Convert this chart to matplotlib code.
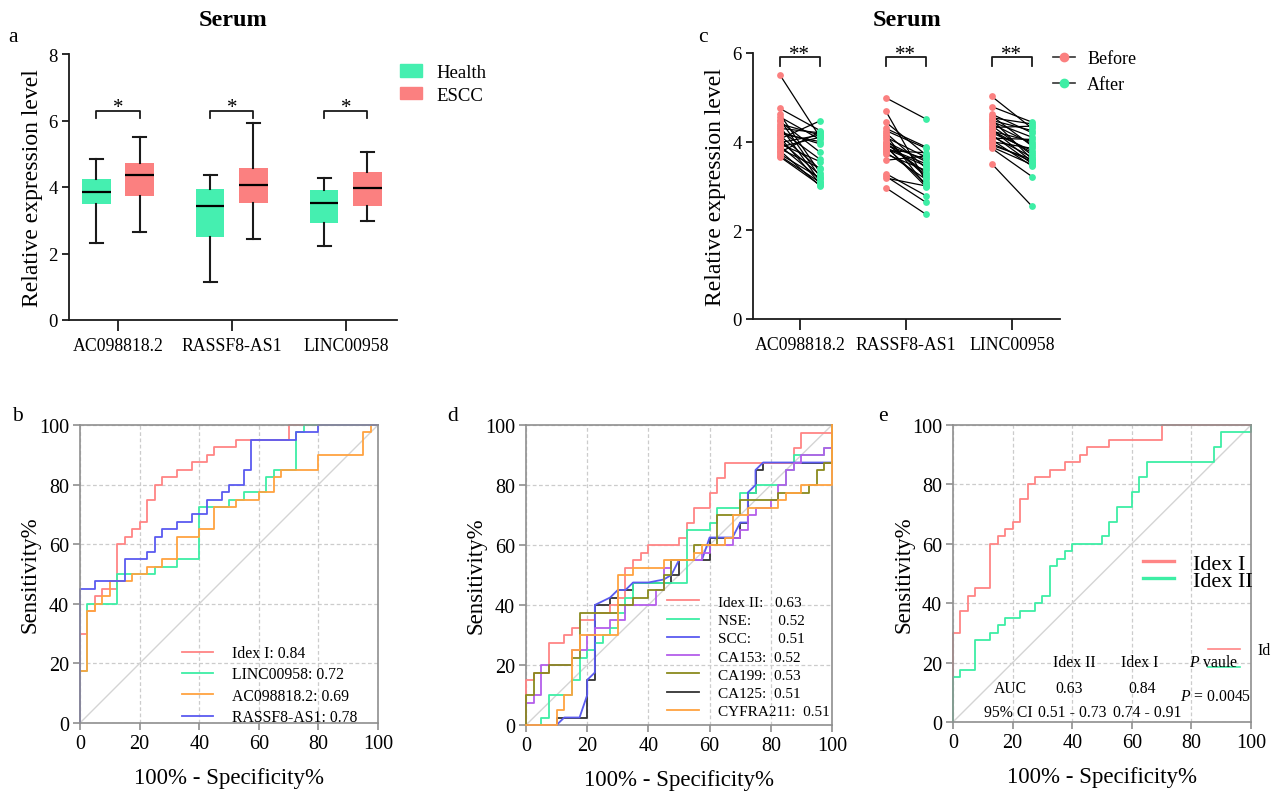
import numpy as np
import matplotlib
matplotlib.use('Agg')
import matplotlib.pyplot as plt
from matplotlib.patches import Patch
from matplotlib.lines import Line2D

plt.rcParams['font.family'] = 'Liberation Serif'
plt.rcParams['mathtext.fontset'] = 'custom'
plt.rcParams['mathtext.rm'] = 'Liberation Serif'
plt.rcParams['mathtext.it'] = 'Liberation Serif:italic'

# ---------------- data ----------------
genes = ['AC098818.2', 'RASSF8-AS1', 'LINC00958']

# panel a: box statistics (whisker low, Q1, median, Q3, whisker high)
health_stats = [[2.32, 3.49, 3.85, 4.24, 4.83],
                [1.15, 2.49, 3.43, 3.93, 4.37],
                [2.22, 2.93, 3.52, 3.91, 4.26]]
escc_stats = [[2.64, 3.74, 4.36, 4.72, 5.51],
              [2.45, 3.53, 4.05, 4.56, 5.92],
              [2.97, 3.44, 3.97, 4.44, 5.06]]

# panel c: paired values before / after
before_ac = [5.51, 4.75, 4.62, 4.56, 4.50, 4.46, 4.40, 4.35, 4.30, 4.26, 4.22, 4.18, 4.14,
             4.10, 4.06, 4.02, 3.98, 3.95, 3.91, 3.88, 3.84, 3.80, 3.76, 3.72, 3.68, 3.66]
after_ac = [4.10, 4.25, 3.30, 4.05, 3.20, 3.76, 4.15, 3.10, 4.20, 3.60, 3.95, 4.00, 3.38,
            3.05, 4.47, 3.25, 4.15, 3.55, 3.15, 4.10, 3.40, 3.00, 4.22, 3.18, 3.08, 3.02]
before_ra = [4.99, 4.69, 4.44, 4.25, 4.20, 4.15, 4.10, 4.05, 4.00, 3.96, 3.92, 3.88, 3.84,
             3.80, 3.76, 3.72, 3.58, 3.28, 3.22, 3.18, 2.96, 4.30, 3.98, 3.90, 3.86]
after_ra = [4.51, 3.10, 3.70, 3.85, 3.40, 3.00, 3.65, 3.20, 3.55, 3.30, 3.60, 3.05, 3.45,
            3.75, 3.15, 3.35, 3.68, 2.78, 2.63, 3.00, 2.36, 3.88, 3.25, 2.98, 3.50]
before_li = [5.02, 4.79, 4.62, 4.58, 4.54, 4.50, 4.45, 4.40, 4.36, 4.32, 4.28, 4.24, 4.20,
             4.16, 4.12, 4.08, 4.04, 4.00, 3.96, 3.92, 3.88, 3.85, 3.50, 4.48, 4.26]
after_li = [4.30, 4.44, 4.20, 3.90, 4.40, 3.60, 4.10, 3.95, 3.70, 4.35, 3.55, 4.00, 3.80,
            3.50, 3.65, 4.05, 3.45, 3.85, 3.55, 3.60, 3.48, 3.21, 2.54, 4.25, 3.75]

# ROC curves (x = 100% - specificity, y = sensitivity), step corners
idex1_x = [0, 0, 2.5, 5, 7.5, 12.5, 15, 17.5, 20, 22.5, 25, 27.5, 32.5, 37.5, 42.5, 45, 52.5, 70, 100]
idex1_y = [0, 30, 37.5, 42.5, 45, 60, 62.5, 65, 67.5, 75, 80, 82.5, 85, 87.5, 90, 92.5, 95, 100, 100]
idex2_x = [0, 0, 2.5, 7.5, 12.5, 15, 17.5, 22.5, 27.5, 30, 32.5, 35, 37.5, 40, 50, 52.5, 55, 60, 62.5, 65, 87.5, 90, 100]
idex2_y = [0, 15, 17.5, 27.5, 30, 32.5, 35, 37.5, 40, 42.5, 52.5, 55, 57.5, 60, 62.5, 67.5, 72.5, 77.5, 82.5, 87.5, 92.5, 97.5, 100]
linc_x = [0, 0, 2.5, 12.5, 25, 32.5, 40, 50, 55, 62.5, 65, 72.5, 75, 100]
linc_y = [0, 17.5, 40, 50, 52.5, 55, 72.5, 75, 77.5, 82.5, 85, 97.5, 100, 100]
ac_x = [0, 0, 2.5, 5, 7.5, 10, 17.5, 22.5, 27.5, 32.5, 40, 45, 52.5, 60, 65, 67.5, 80, 95, 97.5, 100]
ac_y = [0, 17.5, 37.5, 40, 42.5, 47.5, 50, 52.5, 55, 62.5, 65, 72.5, 75, 77.5, 82.5, 85, 90, 97.5, 100, 100]
rassf_x = [0, 0, 5, 15, 22.5, 25, 27.5, 32.5, 37.5, 42.5, 47.5, 50, 55, 57.5, 72.5, 80, 100]
rassf_y = [0, 45, 47.5, 55, 57.5, 62.5, 65, 67.5, 70, 75, 77.5, 80, 85, 95, 97.5, 100, 100]

nse_x = [0, 5, 7.5, 15, 17.5, 20, 22.5, 25, 27.5, 30, 32.5, 35, 52.5, 60, 62.5, 70, 75, 85, 87.5, 97.5, 100]
nse_y = [0, 2.5, 10, 15, 22.5, 25, 27.5, 30, 32.5, 37.5, 42.5, 47.5, 65, 67.5, 72.5, 77.5, 80, 85, 90, 92.5, 100]
scc_x = [0, 10, 12.5, 17.5, 20, 20, 22.5, 22.5, 27.5, 30, 32.5, 35, 40, 45, 47.5, 50, 57.5, 60, 67.5, 70, 72.5, 72.5, 75, 75, 77.5, 100, 100]
scc_y = [0, 0, 2.5, 2.5, 10, 15, 17.5, 40, 42.5, 45, 45, 47.5, 47.5, 48.5, 50, 55, 55, 62.5, 62.5, 67.5, 67.5, 77.5, 80, 85, 87.5, 87.5, 100]
ca153_x = [0, 0, 2.5, 5, 15, 20, 22.5, 27.5, 32.5, 42.5, 45, 47.5, 57.5, 60, 67.5, 70, 72.5, 75, 80, 82.5, 85, 87.5, 90, 97.5, 100]
ca153_y = [0, 7.5, 10, 20, 25, 30, 32.5, 35, 40, 45, 52.5, 55, 57.5, 60, 62.5, 65, 70, 72.5, 75, 80, 85, 87.5, 90, 92.5, 100]
ca199_x = [0, 0, 2.5, 7.5, 15, 17.5, 30, 35, 40, 45, 47.5, 55, 62.5, 70, 82.5, 92.5, 95, 97.5, 100]
ca199_y = [0, 10, 17.5, 20, 22.5, 37.5, 40, 42.5, 45, 50, 55, 60, 70, 75, 77.5, 80, 85, 87.5, 100]
ca125_x = [0, 10, 12.5, 20, 22.5, 27.5, 30, 35, 45, 47.5, 50, 57.5, 60, 70, 72.5, 75, 77.5, 100]
ca125_y = [0, 2.5, 2.5, 15, 40, 42.5, 45, 47.5, 47.5, 50, 55, 55, 62.5, 67.5, 77.5, 85, 87.5, 100]
cyfra_x = [0, 10, 12.5, 15, 17.5, 30, 35, 45, 55, 57.5, 65, 67.5, 72.5, 82.5, 85, 90, 100]
cyfra_y = [0, 5, 10, 25, 30, 50, 52.5, 55, 57.5, 60, 62.5, 70, 72.5, 75, 77.5, 80, 100]

# ---------------- style ----------------
GREEN = '#45EFB0'
RED = '#FB8080'
ROC_RED = '#FF8585'
ROC_GREEN = '#3DEEA5'
ORANGE = '#FFA340'
BLUE = '#5A5AF0'
PURPLE = '#B45EEA'
OLIVE = '#8A8A1E'
DARK = '#333333'
GRAY = '#8F8F8F'

W, H = 1281, 804
fig = plt.figure(figsize=(W / 100, H / 100), dpi=100)


def px_axes(l, t, r, b):
    return fig.add_axes([l / W, 1 - b / H, (r - l) / W, (b - t) / H])


def fig_text(x, y, s, **kw):
    fig.text(x / W, 1 - y / H, s, ha='center', va='center', **kw)


def fig_anchor(x, y):
    return dict(loc='upper left', bbox_to_anchor=(x / W, 1 - y / H), bbox_transform=fig.transFigure,
                borderpad=0, borderaxespad=0, frameon=False)


def style_top(ax):
    for s in ['top', 'right']:
        ax.spines[s].set_visible(False)
    for s in ['left', 'bottom']:
        ax.spines[s].set_linewidth(1.3)
        ax.spines[s].set_color('#1a1a1a')
    ax.tick_params(direction='out', width=1.3, color='#1a1a1a')
    ax.tick_params(axis='y', length=5, labelsize=13.5, pad=3)
    ax.tick_params(axis='x', length=8, labelsize=12.8, pad=4)


def style_roc(ax, ypad):
    ax.set_xlim(0, 100)
    ax.set_ylim(0, 100)
    ax.set_xticks(range(0, 101, 20))
    ax.set_yticks(range(0, 101, 20))
    for s in ax.spines.values():
        s.set_color(GRAY)
        s.set_linewidth(1.2)
    ax.tick_params(direction='out', length=5, width=1.2, color=GRAY, labelsize=14.5, pad=3)
    ax.grid(True, color='#cccccc', linestyle=(0, (3, 2)), linewidth=0.9)
    ax.set_axisbelow(True)
    ax.plot([0, 100], [0, 100], color='#d4d4d4', lw=1.0, zorder=1)
    ax.set_xlabel('100% - Specificity%', fontsize=16.5, labelpad=10)
    ax.set_ylabel('Sensitivity%', fontsize=16.5, labelpad=ypad)


# ---------------- panel a ----------------
ax = px_axes(69, 55, 397, 321)
pos = np.arange(len(genes))
off = 0.19
stats = []
positions = []
colors = []
for i in range(len(genes)):
    for st, dx, c in [(health_stats[i], -off, GREEN), (escc_stats[i], off, RED)]:
        stats.append(dict(whislo=st[0], q1=st[1], med=st[2], q3=st[3], whishi=st[4], fliers=[]))
        positions.append(i + dx)
        colors.append(c)
bp = ax.bxp(stats, positions=positions, widths=0.25, patch_artist=True, showfliers=False,
            manage_ticks=False, capwidths=0.115,
            whiskerprops=dict(color='#1a1a1a', lw=1.5), capprops=dict(color='#1a1a1a', lw=1.5),
            medianprops=dict(color='black', lw=1.6), boxprops=dict(lw=0))
for box, c in zip(bp['boxes'], colors):
    box.set_facecolor(c)
    box.set_edgecolor(c)
for i in range(len(genes)):
    ax.plot([i - off, i - off, i + off, i + off], [6.07, 6.29, 6.29, 6.07], color='#1a1a1a', lw=1.3)
    ax.text(i, 6.1, '*', ha='center', va='bottom', fontsize=15)
ax.set_xlim(-0.43, 2.45)
ax.set_ylim(0, 8)
ax.set_yticks([0, 2, 4, 6, 8])
ax.set_xticks(pos)
ax.set_xticklabels(genes)
ax.set_ylabel('Relative expression level', fontsize=17, labelpad=4)
style_top(ax)
ax.legend(handles=[Patch(color=GREEN, label='Health'), Patch(color=RED, label='ESCC')],
          fontsize=13.5, handlelength=1.17, handleheight=0.64, handletextpad=0.8,
          labelspacing=0.3, **fig_anchor(400, 65))
fig_text(233, 20, 'Serum', fontsize=17.5, fontweight='bold')
fig_text(13, 37, 'a', fontsize=15.5)

# ---------------- panel c ----------------
ax = px_axes(753, 54, 1060, 320)
groups = [(before_ac, after_ac), (before_ra, after_ra), (before_li, after_li)]
for i, (bef, aft) in enumerate(groups):
    for b, a in zip(bef, aft):
        ax.plot([i - off, i + off], [b, a], color='black', lw=0.9, zorder=2)
    ax.scatter(np.full(len(bef), i - off), bef, s=24, color=RED, zorder=3, linewidths=0)
    ax.scatter(np.full(len(aft), i + off), aft, s=24, color=ROC_GREEN, zorder=3, linewidths=0)
    ax.plot([i - off, i - off, i + off, i + off], [5.70, 5.92, 5.92, 5.70], color='#1a1a1a',
            lw=1.3, clip_on=False)
    ax.text(i, 5.76, '**', ha='center', va='bottom', fontsize=15)
ax.set_xlim(-0.443, 2.453)
ax.set_ylim(0, 6)
ax.set_yticks([0, 2, 4, 6])
ax.set_xticks(pos)
ax.set_xticklabels(genes)
ax.set_ylabel('Relative expression level', fontsize=17, labelpad=5)
style_top(ax)
ax.legend(handles=[Line2D([], [], color=DARK, marker='o', markersize=6, markerfacecolor=RED,
                          markeredgecolor=RED, lw=1.2, label='Before'),
                   Line2D([], [], color=DARK, marker='o', markersize=6, markerfacecolor=ROC_GREEN,
                          markeredgecolor=ROC_GREEN, lw=1.2, label='After')],
          fontsize=13, handlelength=1.2, handletextpad=0.7, labelspacing=0.5,
          **fig_anchor(1053, 51))
fig_text(907, 20, 'Serum', fontsize=17.5, fontweight='bold')
fig_text(703, 37, 'c', fontsize=15.5)

# ---------------- panel b ----------------
ax = px_axes(80, 426, 378, 724)
style_roc(ax, -1)
ax.plot(idex1_x, idex1_y, drawstyle='steps-post', color=ROC_RED, lw=1.3, label='Idex I: 0.84',
        clip_on=False)
ax.plot(linc_x, linc_y, drawstyle='steps-post', color=ROC_GREEN, lw=1.3, label='LINC00958: 0.72',
        clip_on=False)
ax.plot(ac_x, ac_y, drawstyle='steps-post', color=ORANGE, lw=1.3, label='AC098818.2: 0.69',
        clip_on=False)
ax.plot(rassf_x, rassf_y, drawstyle='steps-post', color=BLUE, lw=1.3, label='RASSF8-AS1: 0.78',
        clip_on=False)
ax.legend(fontsize=11.3, handlelength=2.0, handletextpad=1.2, labelspacing=0.34,
          **fig_anchor(182, 646))
fig_text(17, 417, 'b', fontsize=15.5)

# ---------------- panel d ----------------
ax = px_axes(526, 426, 832, 726)
style_roc(ax, -1)
ax.plot(ca125_x, ca125_y, drawstyle='steps-post', color=DARK, lw=1.3, zorder=2, clip_on=False)
ax.plot(idex2_x, idex2_y, drawstyle='steps-post', color=ROC_RED, lw=1.3, zorder=3, clip_on=False)
ax.plot(nse_x, nse_y, drawstyle='steps-post', color=ROC_GREEN, lw=1.3, zorder=3, clip_on=False)
ax.plot(scc_x, scc_y, color=BLUE, lw=1.3, zorder=3, clip_on=False)
ax.plot(ca153_x, ca153_y, drawstyle='steps-post', color=PURPLE, lw=1.3, zorder=3, clip_on=False)
ax.plot(ca199_x, ca199_y, drawstyle='steps-post', color=OLIVE, lw=1.3, zorder=3, clip_on=False)
ax.plot(cyfra_x, cyfra_y, drawstyle='steps-post', color=ORANGE, lw=1.3, zorder=3, clip_on=False)
d_handles = [Line2D([], [], color=c, lw=1.3) for c in
             [ROC_RED, ROC_GREEN, BLUE, PURPLE, OLIVE, DARK, ORANGE]]
d_labels = ['Idex II:   0.63', 'NSE:       0.52', 'SCC:       0.51', 'CA153:  0.52',
            'CA199:  0.53', 'CA125:  0.51', 'CYFRA211:  0.51']
ax.legend(d_handles, d_labels, fontsize=11, handlelength=2.1, handletextpad=1.25,
          labelspacing=0.3, **fig_anchor(667, 596))
fig_text(453, 417, 'd', fontsize=15.5)

# ---------------- panel e ----------------
ax = px_axes(953, 426, 1251, 723)
style_roc(ax, -2)
ax.plot(idex1_x, idex1_y, drawstyle='steps-post', color=ROC_RED, lw=1.3, clip_on=False)
ax.plot(idex2_x, idex2_y, drawstyle='steps-post', color=ROC_GREEN, lw=1.3, clip_on=False)
ax.legend([Line2D([], [], color=ROC_RED, lw=2.4), Line2D([], [], color=ROC_GREEN, lw=2.4)],
          ['Idex I', 'Idex II'], fontsize=16, handlelength=1.4, handletextpad=0.85,
          labelspacing=-0.16, **fig_anchor(1143, 554))
# clipped copy of the legend at the right edge
ax.plot([85.6, 96.4], [24.6, 24.6], color=ROC_RED, lw=1.2, clip_on=False)
ax.plot([85.6, 96.4], [18.5, 18.5], color=ROC_GREEN, lw=1.2, clip_on=False)
ax.text(102.3, 24.3, 'Id', fontsize=11.5, ha='left', va='center', clip_on=False)
tkw = dict(fontsize=11.3, ha='center', va='center')
ax.text(40.6, 20.2, 'Idex II', **tkw)
ax.text(62.5, 20.2, 'Idex I', **tkw)
ax.text(87.3, 20.2, '$P$ vaule', **tkw)
ax.text(19.1, 11.4, 'AUC', **tkw)
ax.text(39.0, 11.4, '0.63', **tkw)
ax.text(63.5, 11.4, '0.84', **tkw)
ax.text(88.0, 8.8, '$P$ = 0.0045', **tkw)
ax.text(18.5, 3.4, '95% CI', **tkw)
ax.text(40.0, 3.4, '0.51 - 0.73', **tkw)
ax.text(65.2, 3.4, '0.74 - 0.91', **tkw)
fig_text(883, 417, 'e', fontsize=15.5)

fig.savefig('out.png', dpi=100)
